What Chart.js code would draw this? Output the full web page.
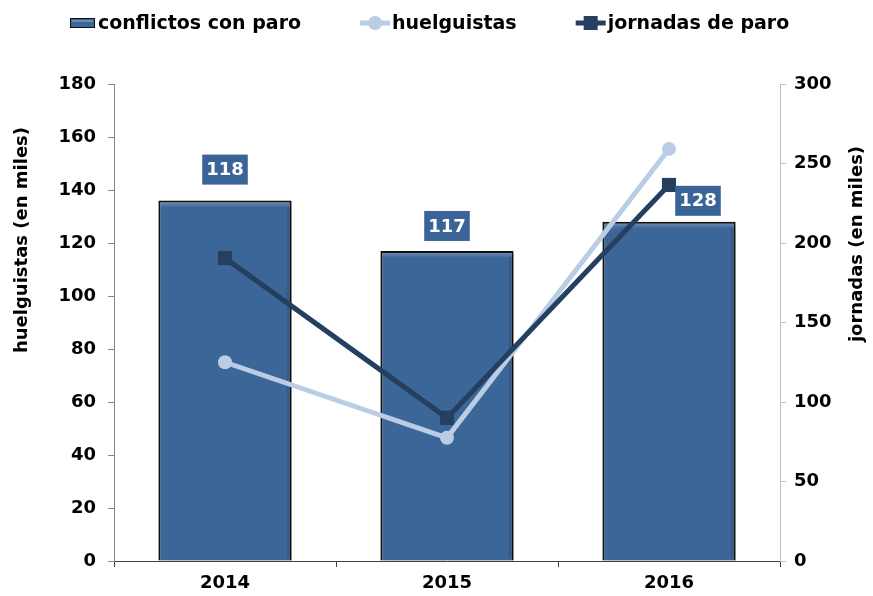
<!DOCTYPE html>
<html>
<head>
<meta charset="utf-8">
<script src="https://cdn.jsdelivr.net/npm/chart.js@4/dist/chart.umd.min.js"></script>
<style>
html,body{margin:0;padding:0;background:#fff;}
#wrap{width:873px;height:596px;}
</style>
</head>
<body>
<div id="wrap"><canvas id="c" width="873" height="596"></canvas></div>
<script>
// ---- data ----
const categories = ['2014', '2015', '2016'];
const conflictos = [136, 117, 128];          // bar heights as drawn
const conflictosLabels = ['118', '117', '128']; // labels shown on bars
const huelguistas = [75, 46.5, 155.5];       // left axis (miles)
const jornadas = [190.5, 90, 236.5];          // right axis (miles)
const leftTicks = [0, 20, 40, 60, 80, 100, 120, 140, 160, 180];
const rightTicks = [0, 50, 100, 150, 200, 250, 300];

const FONT = "'DejaVu Sans', sans-serif";
const BAR = '#3D6698';
const LIGHT = '#B9CDE5';
const DARK = '#243F60';

const barStyle = {
  id: 'barStyle',
  beforeDatasetDraw(chart, args) {
    if (args.meta.type !== 'bar') return;
    const ctx = chart.ctx;
    ctx.save();
    ctx.shadowColor = 'rgba(0,0,0,0.35)';
    ctx.shadowBlur = 5;
    ctx.shadowOffsetX = 3;
    ctx.shadowOffsetY = 2;
  },
  afterDatasetDraw(chart, args) {
    if (args.meta.type !== 'bar') return;
    const ctx = chart.ctx;
    ctx.restore();
    ctx.save();
    args.meta.data.forEach(el => {
      const w = el.width, l = el.x - w / 2, t = el.y;
      const g = ctx.createLinearGradient(0, t + 2, 0, t + 7);
      g.addColorStop(0, 'rgba(255,255,255,0.22)');
      g.addColorStop(1, 'rgba(255,255,255,0)');
      ctx.fillStyle = g;
      ctx.fillRect(l + 2, t + 2, w - 4, 5);
      ctx.fillStyle = 'rgba(0,0,0,0.10)';
      ctx.fillRect(l + w - 5, t + 6, 3, el.base - t - 8);
    });
    ctx.restore();
  }
};

const barLabels = {
  id: 'barLabels',
  afterDatasetsDraw(chart, args, opts) {
    const meta = chart.getDatasetMeta(0);
    const ctx = chart.ctx;
    ctx.save();
    ctx.font = 'bold 18px ' + FONT;
    ctx.textAlign = 'center';
    ctx.textBaseline = 'middle';
    meta.data.forEach((el, i) => {
      const txt = conflictosLabels[i];
      const cx = el.x + opts.dx[i];
      const cy = el.y - opts.dy[i];
      const w = ctx.measureText(txt).width + 8;
      const h = 30;
      ctx.fillStyle = '#3A6398';
      ctx.fillRect(cx - w / 2, cy - h / 2, w, h);
      ctx.fillStyle = '#fff';
      ctx.fillText(txt, cx, cy + 1);
    });
    ctx.restore();
  }
};

const customText = {
  id: 'customText',
  afterDraw(chart) {
    const ctx = chart.ctx;
    ctx.save();
    // axis titles
    ctx.font = 'bold 18px ' + FONT;
    ctx.fillStyle = '#000';
    ctx.textAlign = 'center';
    ctx.textBaseline = 'middle';
    ctx.save();
    ctx.translate(22, 240);
    ctx.rotate(-Math.PI / 2);
    ctx.fillText('huelguistas (en miles)', 0, 0);
    ctx.restore();
    ctx.save();
    ctx.translate(857, 244);
    ctx.rotate(-Math.PI / 2);
    ctx.fillText('jornadas (en miles)', 0, 0);
    ctx.restore();

    // legend
    ctx.font = 'bold 19px ' + FONT;
    ctx.textAlign = 'left';
    const y = 23;
    let x = 70;
    const items = [
      {t: 'conflictos con paro', kind: 'box'},
      {t: 'huelguistas', kind: 'circle'},
      {t: 'jornadas de paro', kind: 'rect'}
    ];
    items.forEach(it => {
      if (it.kind === 'box') {
        ctx.fillStyle = BAR;
        ctx.fillRect(x, y - 5, 25, 10);
        ctx.strokeStyle = '#111';
        ctx.lineWidth = 1;
        ctx.strokeRect(x + 0.5, y - 4.5, 24, 9);
        ctx.fillStyle = 'rgba(255,255,255,0.25)';
        ctx.fillRect(x + 2, y - 3, 21, 2);
        x += 28;
      } else {
        const col = it.kind === 'circle' ? LIGHT : DARK;
        ctx.strokeStyle = col;
        ctx.lineWidth = 5;
        ctx.beginPath();
        ctx.moveTo(x, y);
        ctx.lineTo(x + 30, y);
        ctx.stroke();
        ctx.fillStyle = col;
        if (it.kind === 'circle') {
          ctx.beginPath();
          ctx.arc(x + 15, y, 7, 0, Math.PI * 2);
          ctx.fill();
        } else {
          ctx.fillRect(x + 8, y - 7, 14, 14);
        }
        x += 32;
      }
      ctx.fillStyle = '#000';
      ctx.fillText(it.t, x, y + 1);
      x += ctx.measureText(it.t).width + 59;
    });
    ctx.restore();
  }
};

new Chart(document.getElementById('c'), {
  data: {
    labels: categories,
    datasets: [
      {
        type: 'bar',
        label: 'conflictos con paro',
        data: conflictos,
        yAxisID: 'y',
        backgroundColor: BAR,
        borderColor: '#111',
        borderWidth: 2,
        barPercentage: 0.6,
        categoryPercentage: 1,
        order: 3
      },
      {
        type: 'line',
        label: 'huelguistas',
        data: huelguistas,
        yAxisID: 'y',
        borderColor: LIGHT,
        backgroundColor: LIGHT,
        borderWidth: 5,
        pointStyle: 'circle',
        pointRadius: 7,
        pointBorderWidth: 0,
        tension: 0,
        order: 2
      },
      {
        type: 'line',
        label: 'jornadas de paro',
        data: jornadas,
        yAxisID: 'y1',
        borderColor: DARK,
        backgroundColor: DARK,
        borderWidth: 5,
        pointStyle: 'rect',
        pointRadius: 10,
        pointBorderWidth: 0,
        tension: 0,
        order: 1
      }
    ]
  },
  options: {
    responsive: false,
    animation: false,
    devicePixelRatio: 1,
    layout: {padding: {top: 84, bottom: 0, left: 0, right: 0}},
    plugins: {
      legend: {display: false},
      tooltip: {enabled: false},
      barLabels: {dx: [0, 0, 29], dy: [31, 25, 21]}
    },
    scales: {
      x: {
        offset: true,
        grid: {display: true, drawOnChartArea: false, offset: true, tickLength: 6, color: '#404040'},
        border: {color: '#404040', width: 1},
        ticks: {font: {family: FONT, weight: 'bold', size: 18}, color: '#000', padding: 6},
        afterFit(s) { s.height = 35; }
      },
      y: {
        position: 'left',
        min: 0, max: 180,
        afterBuildTicks(s) { s.ticks = leftTicks.map(v => ({value: v})); },
        grid: {display: true, drawOnChartArea: false, tickLength: 6, color: '#868686'},
        border: {color: '#868686', width: 1},
        ticks: {font: {family: FONT, weight: 'bold', size: 18}, color: '#000', padding: 12},
        afterFit(s) { s.width = 114; }
      },
      y1: {
        position: 'right',
        min: 0, max: 300,
        afterBuildTicks(s) { s.ticks = rightTicks.map(v => ({value: v})); },
        grid: {display: true, drawOnChartArea: false, tickLength: 6, color: '#BFBFBF'},
        border: {color: '#BFBFBF', width: 1},
        ticks: {font: {family: FONT, weight: 'bold', size: 18}, color: '#000', padding: 8},
        afterFit(s) { s.width = 93; }
      }
    }
  },
  plugins: [barStyle, barLabels, customText]
});
</script>
</body>
</html>
